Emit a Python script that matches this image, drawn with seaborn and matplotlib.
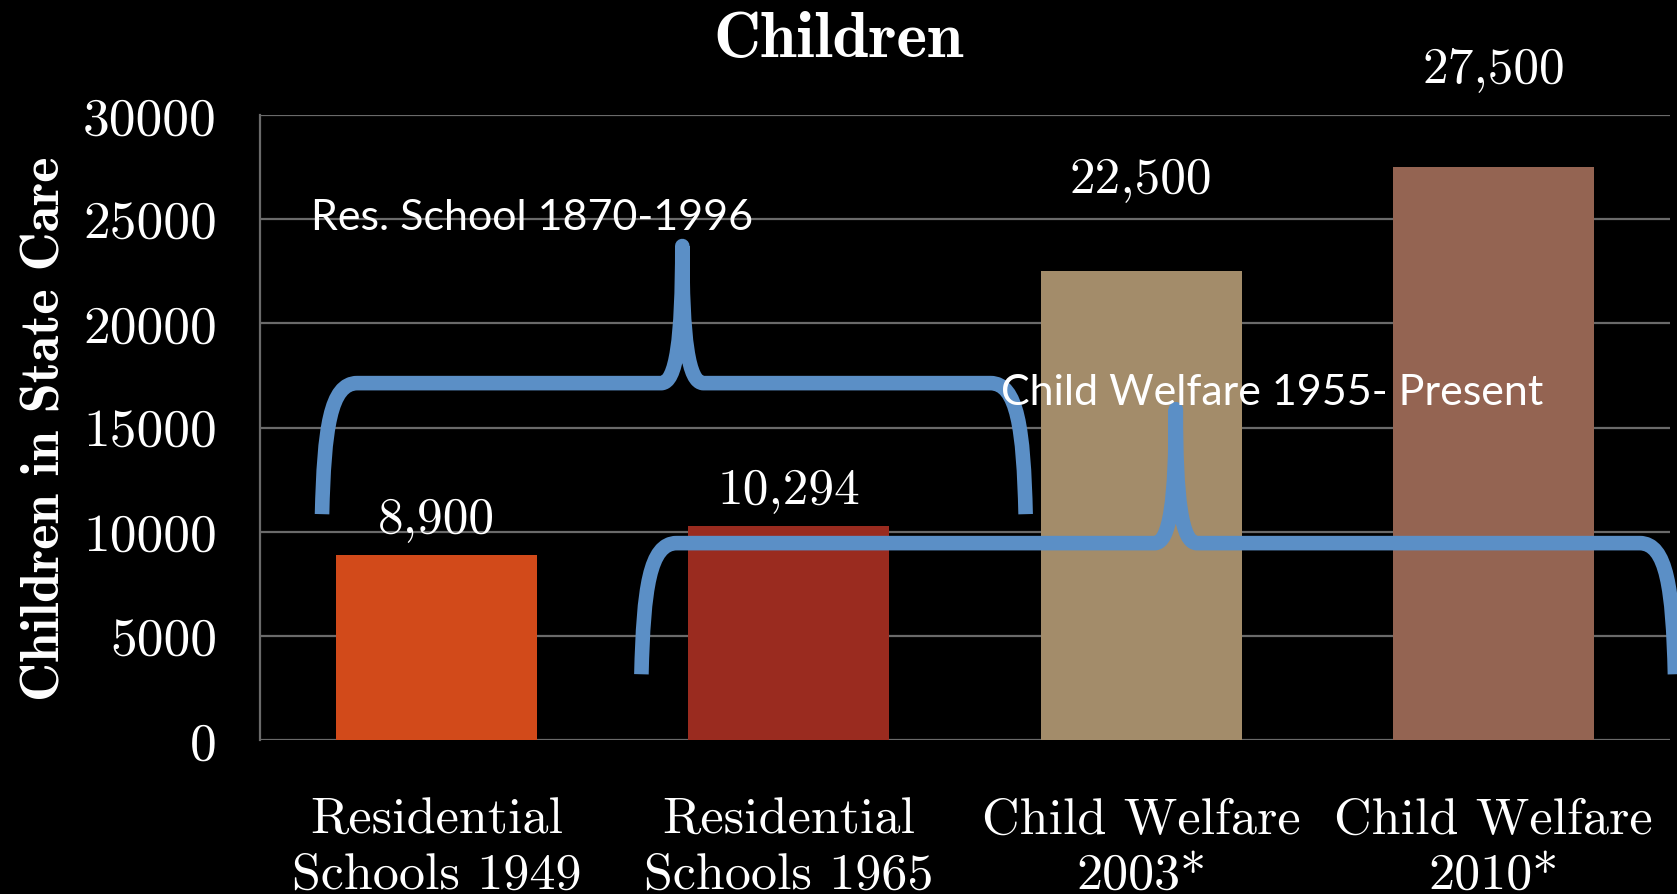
import matplotlib
matplotlib.use("Agg")
import matplotlib.pyplot as plt
import seaborn as sns
import pandas as pd
from matplotlib.path import Path
from matplotlib.patches import PathPatch

# ---------------- data ----------------
categories = ["Residential\nSchools 1949", "Residential\nSchools 1965",
              "Child Welfare\n2003*", "Child Welfare\n2010*"]
values = [8900, 10294, 22500, 27500]
value_labels = ["8,900", "10,294", "22,500", "27,500"]
y_ticks = [0, 5000, 10000, 15000, 20000, 25000, 30000]
title_text = "Children"
y_label = "Children in State Care"

# ---------------- styling ----------------
bar_colors = ["#D24A1A", "#9A2B1F", "#A38C6A", "#946452"]
label_offsets_pt = [16.5, 16, 57, 62]  # value-label gap above each bar
grid_color = "#6a6a6a"
brace_color = "#5B8FC6"

# braces (annotation shapes, data coordinates)
brace_res = dict(x_left=-0.324, x_right=1.672, x_peak=0.698,
                 y_bottom=10840, y_mid=17130, y_peak=23710)
brace_cw = dict(x_left=0.582, x_right=3.514, x_peak=2.098,
                y_bottom=3155, y_mid=9450, y_peak=15880)
brace_res_text = dict(text="Res. School 1870-1996", x=-0.355, y=24525)
brace_cw_text = dict(text="Child Welfare 1955- Present", x=1.601, y=16120)

sns.set_theme(style="white")
plt.rcParams["font.family"] = ["cmr10", "DejaVu Serif"]
plt.rcParams["axes.unicode_minus"] = False
plt.rcParams["axes.formatter.use_mathtext"] = True

fig = plt.figure(figsize=(16.77, 8.95), dpi=100, facecolor="black")
ax = fig.add_axes([260 / 1677, (895 - 741) / 895, (1670 - 260) / 1677, (741 - 116) / 895])
ax.set_facecolor("black")

df = pd.DataFrame({"category": categories, "value": values})
sns.barplot(data=df, x="category", y="value", hue="category",
            palette=bar_colors, width=0.57, legend=False, ax=ax,
            saturation=1, zorder=2, edgecolor="none", linewidth=0)

ax.set_xlim(-0.5, 3.5)
ax.set_ylim(0, 30000)
ax.set_yticks(y_ticks)
ax.set_yticklabels([str(v) for v in y_ticks])
ax.set_axisbelow(True)
ax.yaxis.grid(True, color=grid_color, linewidth=1.6)
ax.xaxis.grid(False)
for side in ["top", "right", "bottom"]:
    ax.spines[side].set_visible(False)
ax.spines["left"].set_color(grid_color)
ax.spines["left"].set_linewidth(1.6)

ax.tick_params(axis="y", length=0, pad=31, labelsize=38.5, colors="white")
ax.tick_params(axis="x", length=0, pad=41, labelsize=37.5, colors="white")
for lab in ax.get_xticklabels():
    lab.set_linespacing(1.24)

ax.set_xlabel("")
ax.set_ylabel(y_label, fontsize=39, color="white", family=["cmb10", "DejaVu Serif"],
              labelpad=9)

# value labels
for i, (v, t, off) in enumerate(zip(values, value_labels, label_offsets_pt)):
    ax.annotate(t, xy=(i, v), xytext=(0, off), textcoords="offset points",
                ha="center", va="baseline", fontsize=37, color="white",
                annotation_clip=False)

fig.text(0.5, 1 - 57 / 895, title_text, ha="center", va="baseline",
         fontsize=47, color="white", family=["cmb10", "DejaVu Serif"])


def draw_brace(ax, x_left, x_right, x_peak, y_bottom, y_mid, y_peak):
    aw, cw = 0.10, 0.06
    h_arm = y_mid - y_bottom
    h_cusp = y_peak - y_mid
    verts = [
        (x_left, y_bottom),
        (x_left + 0.006, y_bottom + 0.65 * h_arm), (x_left + 0.023, y_mid), (x_left + aw, y_mid),
        (x_peak - cw, y_mid),
        (x_peak - 0.017, y_mid), (x_peak, y_mid + 0.32 * h_cusp), (x_peak, y_peak),
        (x_peak, y_mid + 0.32 * h_cusp), (x_peak + 0.017, y_mid), (x_peak + cw, y_mid),
        (x_right - aw, y_mid),
        (x_right - 0.023, y_mid), (x_right - 0.006, y_bottom + 0.65 * h_arm), (x_right, y_bottom),
    ]
    codes = [Path.MOVETO,
             Path.CURVE4, Path.CURVE4, Path.CURVE4,
             Path.LINETO,
             Path.CURVE4, Path.CURVE4, Path.CURVE4,
             Path.CURVE4, Path.CURVE4, Path.CURVE4,
             Path.LINETO,
             Path.CURVE4, Path.CURVE4, Path.CURVE4]
    patch = PathPatch(Path(verts, codes), facecolor="none", edgecolor=brace_color,
                      linewidth=10.5, capstyle="butt", joinstyle="round",
                      zorder=5, clip_on=False)
    ax.add_patch(patch)


draw_brace(ax, **brace_res)
draw_brace(ax, **brace_cw)

for spec in (brace_res_text, brace_cw_text):
    ax.text(spec["x"], spec["y"], spec["text"], ha="left", va="baseline",
            fontsize=31, color="white", family=["Lato", "DejaVu Sans"],
            zorder=6, clip_on=False)

fig.savefig("out.png", dpi=100, facecolor="black")
